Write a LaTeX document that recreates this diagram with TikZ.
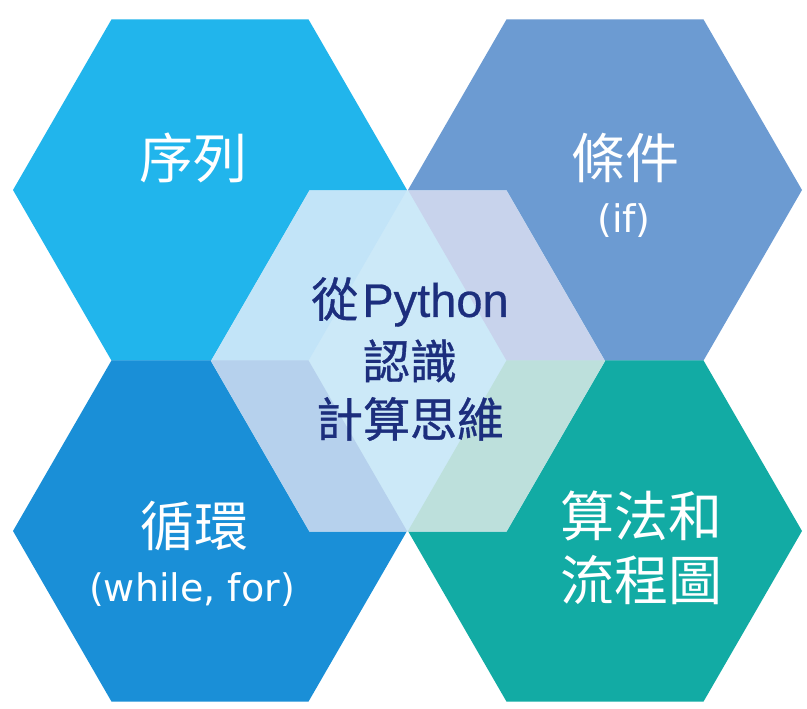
\documentclass[tikz,border=0pt]{standalone}
\usepackage{fontspec}
\setmainfont{Noto Sans CJK TC}
\newfontfamily\latinf{DejaVu Sans}
\newfontfamily\pyf[FakeBold=0.6]{Liberation Sans}
\newfontfamily\midf[FakeBold=0.8]{Noto Sans CJK TC}
\definecolor{tlcol}{HTML}{21B5EC}
\definecolor{trcol}{HTML}{6C9BD2}
\definecolor{blcol}{HTML}{1A8FD7}
\definecolor{brcol}{HTML}{12ABA4}
\definecolor{innercol}{HTML}{CCE9F8}
\definecolor{ovtl}{HTML}{C2E4F8}
\definecolor{ovtr}{HTML}{C8D3EC}
\definecolor{ovbl}{HTML}{B6D1ED}
\definecolor{ovbr}{HTML}{BDE0DC}
\definecolor{navy}{HTML}{1C2E7D}
\newcommand{\hexR}{197}
\newcommand{\hexH}{170.6}
\newcommand{\hexat}[2]{({#1+\hexR},#2) -- ({#1+\hexR/2},{#2+\hexH}) -- ({#1-\hexR/2},{#2+\hexH}) -- ({#1-\hexR},#2) -- ({#1-\hexR/2},{#2-\hexH}) -- ({#1+\hexR/2},{#2-\hexH}) -- cycle}
\tikzset{
  bigtxt/.style={text=white, font=\fontsize{54}{58}\selectfont, inner sep=0pt, anchor=center},
  smalltxt/.style={text=white, font=\latinf\fontsize{38}{42}\selectfont, inner sep=0pt, anchor=center},
  midtxt/.style={text=navy, font=\midf\fontsize{47}{52}\selectfont, inner sep=0pt, anchor=center},
}
\begin{document}
\begin{tikzpicture}[x=1pt,y=-1pt]
\useasboundingbox (0,0) rectangle (807,709);
\fill[white] (0,0) rectangle (807,709);
\fill[tlcol] \hexat{210}{190};
\fill[trcol] \hexat{605}{190};
\fill[blcol] \hexat{210}{531};
\fill[brcol] \hexat{605}{531};
\fill[innercol] \hexat{408}{361};
\begin{scope}
  \clip \hexat{408}{361};
  \fill[ovtl] \hexat{210}{190};
  \fill[ovtr] \hexat{605}{190};
  \fill[ovbl] \hexat{210}{531};
  \fill[ovbr] \hexat{605}{531};
\end{scope}
\node[bigtxt] (xulie) at (193,158) {序列};
\node[bigtxt] (tiaojian) at (625,158) {條件};
\node[smalltxt] (ifn) at (624,221) {(if)};
\node[bigtxt] (xunhuan) at (194,526) {循環};
\node[smalltxt] (whilefor) at (192,590) {(while, for)};
\node[bigtxt] (suanfa) at (641,516) {算法和};
\node[bigtxt] (liucheng) at (641,580) {流程圖};
\node[midtxt] (cong) at (410,302) {從\hspace{4pt}{\pyf\fontsize{47}{52}\selectfont Python}};
\node[midtxt] (renshi) at (410,361) {認識};
\node[midtxt] (jisuan) at (410,419) {計算思維};
\end{tikzpicture}
\end{document}
